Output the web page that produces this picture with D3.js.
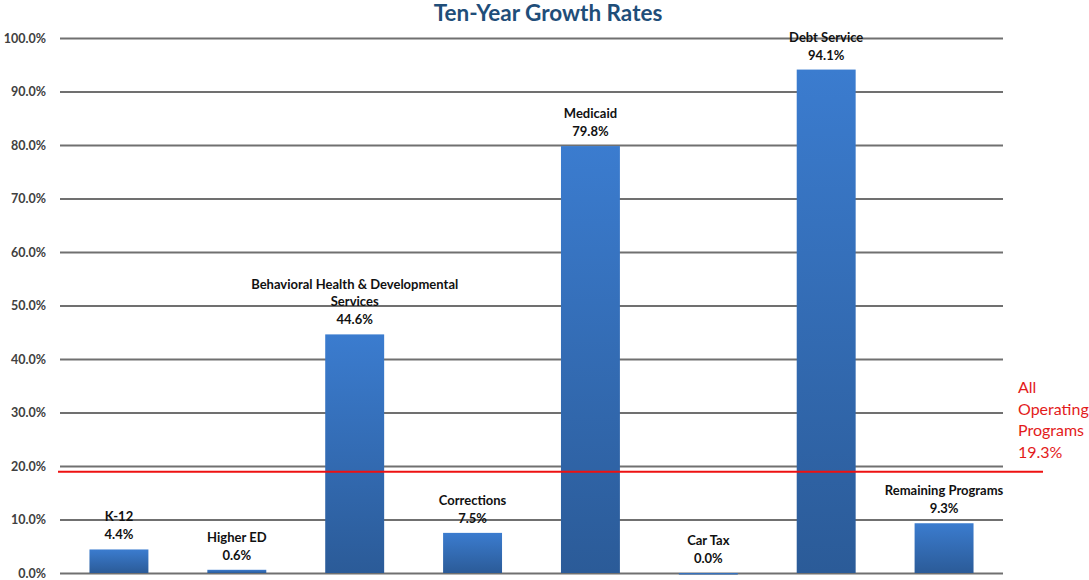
<!DOCTYPE html>
<meta charset="utf-8">
<html>
<head>
<style>
  body { margin: 0; background: #fff; }
  text { font-family: Lato, "Open Sans", sans-serif; }
</style>
</head>
<body>
<script src="https://cdn.jsdelivr.net/npm/d3@7"></script>
<script>
  // chart data
  var categories = ["K-12", "Higher ED", "Behavioral Health & Developmental Services",
                    "Corrections", "Medicaid", "Car Tax", "Debt Service", "Remaining Programs"];
  var values = [4.4, 0.6, 44.6, 7.5, 79.8, 0.0, 94.1, 9.3];
  var labelLines = [["K-12"], ["Higher ED"], ["Behavioral Health & Developmental", "Services"],
                    ["Corrections"], ["Medicaid"], ["Car Tax"], ["Debt Service"], ["Remaining Programs"]];
  var yTicks = [0, 10, 20, 30, 40, 50, 60, 70, 80, 90, 100];
  var allOperating = 19.3;
  var allOperatingLabel = ["All", "Operating", "Programs", "19.3%"];

  var W = 1089, H = 580;
  // plot box (note: "top" is a reserved window global, so use plotTop)
  var plotLeft = 60, plotRight = 1003, plotTop = 38, plotBottom = 573;

  var svg = d3.select("body").append("svg")
    .attr("width", W).attr("height", H);

  var defs = svg.append("defs");
  var grad = defs.append("linearGradient")
    .attr("id", "barGrad").attr("x1", 0).attr("y1", 0).attr("x2", 0).attr("y2", 1);
  grad.append("stop").attr("offset", "0%").attr("stop-color", "#3b7ccf");
  grad.append("stop").attr("offset", "100%").attr("stop-color", "#2b5b98");

  var x = d3.scaleBand().domain(categories).range([plotLeft, plotRight])
    .paddingInner(0.5).paddingOuter(0.25);
  var y = d3.scaleLinear().domain([0, 100]).range([plotBottom, plotTop]);

  // title
  svg.append("text")
    .attr("x", 548).attr("y", 21)
    .attr("text-anchor", "middle")
    .style("font-size", "22.5px").style("font-weight", "bold")
    .style("fill", "#1f4e79")
    .text("Ten-Year Growth Rates");

  // y axis: gridlines + labels
  var yAxis = d3.axisLeft(y)
    .tickValues(yTicks)
    .tickSize(-(plotRight - plotLeft))
    .tickPadding(14)
    .tickFormat(function(d) { return d.toFixed(1) + "%"; });

  var ga = svg.append("g")
    .attr("transform", "translate(" + plotLeft + ",0)")
    .call(yAxis);
  ga.select(".domain").remove();
  ga.selectAll(".tick line").attr("stroke", "#707070").attr("stroke-width", 2);
  ga.selectAll(".tick text")
    .style("font-size", "12.5px").style("font-weight", "bold")
    .style("fill", "#404040");

  // bars
  svg.selectAll("rect.bar")
    .data(values)
    .enter().append("rect")
      .attr("class", "bar")
      .attr("x", function(d, i) { return x(categories[i]); })
      .attr("width", x.bandwidth())
      .attr("y", function(d) { return y(d); })
      .attr("height", function(d) { return Math.max(1.5, y(0) - y(d)); })
      .attr("fill", "url(#barGrad)");

  // bar labels
  var lbl = svg.selectAll("g.lbl")
    .data(values)
    .enter().append("g")
      .attr("class", "lbl")
      .attr("transform", function(d, i) {
        return "translate(" + (x(categories[i]) + x.bandwidth() / 2) + "," + (y(d) - 10) + ")";
      });

  lbl.append("text")
    .attr("text-anchor", "middle")
    .style("font-size", "13px").style("font-weight", "bold").style("fill", "#111")
    .text(function(d) { return d.toFixed(1) + "%"; });

  lbl.each(function(d, i) {
    var lines = labelLines[i];
    var g = d3.select(this);
    lines.forEach(function(s, k) {
      g.append("text")
        .attr("text-anchor", "middle")
        .attr("y", -18 - (lines.length - 1 - k) * 17)
        .style("font-size", "13px").style("font-weight", "bold").style("fill", "#111")
        .text(s);
    });
  });

  // all operating programs line
  svg.append("line")
    .attr("x1", 58).attr("x2", 1043)
    .attr("y1", y(allOperating) + 2).attr("y2", y(allOperating) + 2)
    .attr("stroke", "#ee1111").attr("stroke-width", 2);

  svg.append("g").selectAll("text")
    .data(allOperatingLabel)
    .enter().append("text")
      .attr("x", 1018)
      .attr("y", function(d, i) { return 393 + i * 21.5; })
      .style("font-size", "16px")
      .style("fill", "#e31b1b")
      .text(function(d) { return d; });
</script>
</body>
</html>
